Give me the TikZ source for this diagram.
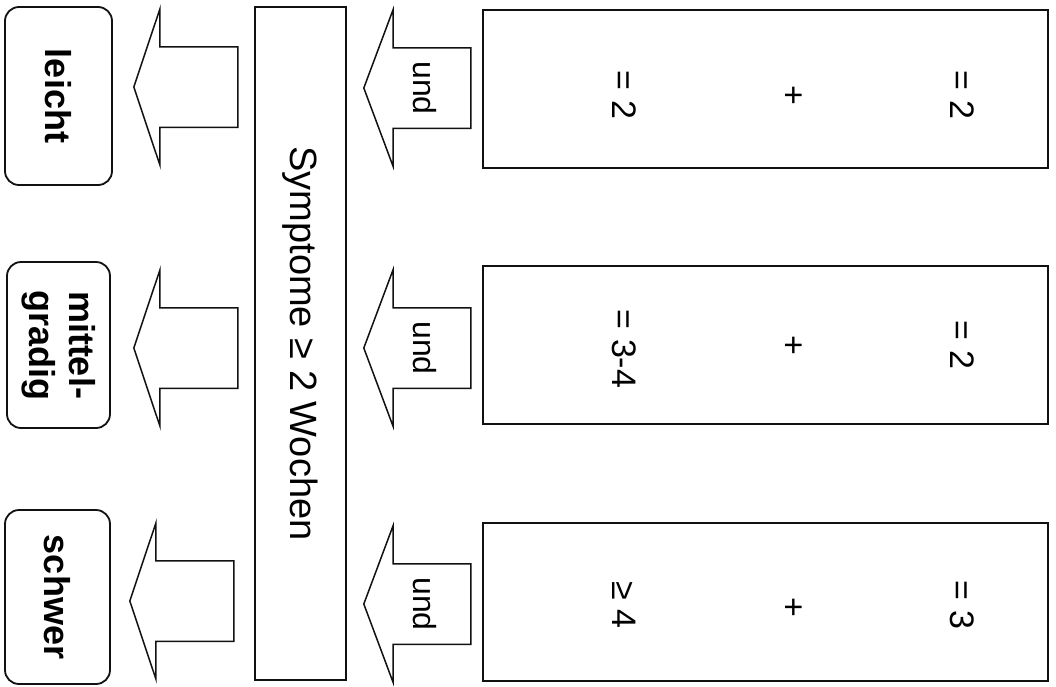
\documentclass[tikz,border=0pt]{standalone}
\usepackage{fontspec}
\setmainfont{Liberation Sans}
\usetikzlibrary{shapes.arrows}
\definecolor{LineDark}{HTML}{111111}

\begin{document}
\begin{tikzpicture}[
  x=1pt, y=-1pt,
  result/.style={draw=LineDark, line width=1.8pt, rounded corners=14pt, rotate=-90, align=center, inner sep=0pt, font=\fontsize{36}{40}\selectfont\bfseries},
  bar/.style={draw=LineDark, line width=1.8pt, rotate=-90, inner sep=0pt, minimum width=673pt, minimum height=91pt, font=\fontsize{38}{40}\selectfont},
  cond/.style={draw=LineDark, line width=1.8pt, minimum width=565pt, minimum height=158pt, inner sep=0pt},
  term/.style={rotate=-90, inner sep=0pt, font=\fontsize{34}{36}\selectfont},
  fat/.style={draw=LineDark, line width=1.5pt, single arrow, rotate=-90, shape border rotate=270, inner sep=0pt, text width=79pt, align=center, minimum width=156pt, single arrow head extend=38pt, font=\fontsize{32}{34}\selectfont}
]
  \useasboundingbox (0,0) rectangle (1056,686);

  % degree boxes
  \node[result, minimum width=178pt, minimum height=107pt] (leicht) at (58.5,96) {leicht};
  \node[result, minimum width=166pt, minimum height=103pt] (mittel) at (58.5,345) {mittel-\\gradig};
  \node[result, minimum width=174pt, minimum height=105pt] (schwer) at (57.5,597) {schwer};

  % duration bar
  \node[bar] (dauer) at (300.5,343.5) {Symptome ≥ 2 Wochen};

  % symptom counts
  \node[cond] (crit1) at (765.5,89) {};
  \node[cond] (crit2) at (765.5,345) {};
  \node[cond] (crit3) at (765.5,602) {};

  \node[term] (haupt1) at (624,95) {= 2};
  \node[term] (plus1) at (792,95) {+};
  \node[term] (neben1) at (962,95) {= 2};
  \node[term] (haupt2) at (624,349) {= 3-4};
  \node[term] (plus2) at (792,345) {+};
  \node[term] (neben2) at (962,345) {= 2};
  \node[term] (haupt3) at (624,605) {≥ 4};
  \node[term] (plus3) at (792,607) {+};
  \node[term] (neben3) at (962,605) {= 3};

  % block arrows
  \node[fat, minimum height=107pt, single arrow tip angle=139, anchor=tip] (und1) at (363,88) {und};
  \node[fat, minimum height=107pt, single arrow tip angle=139, anchor=tip] (und2) at (363,348) {und};
  \node[fat, minimum height=107pt, single arrow tip angle=139, anchor=tip] (und3) at (363,604) {und};

  \node[fat, minimum height=104pt, single arrow tip angle=143, anchor=tip] (pfeil1) at (133,87) {};
  \node[fat, minimum height=104pt, single arrow tip angle=143, anchor=tip] (pfeil2) at (133,348) {};
  \node[fat, minimum height=104pt, single arrow tip angle=143, anchor=tip] (pfeil3) at (129,601) {};
\end{tikzpicture}
\end{document}
